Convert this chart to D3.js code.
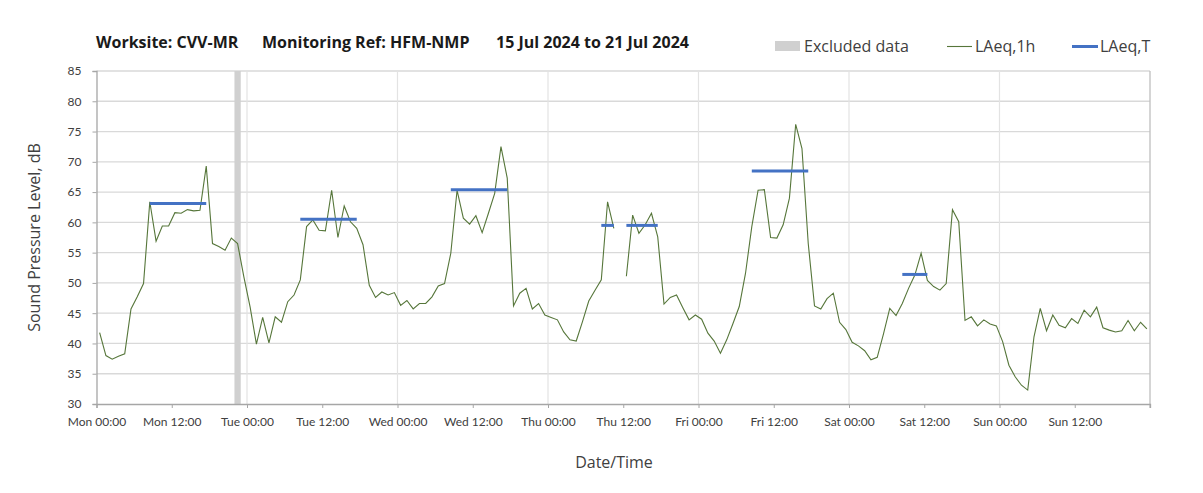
<!DOCTYPE html>
<html>
<head>
<meta charset="utf-8">
<script src="https://cdn.jsdelivr.net/npm/d3@7"></script>
<style>
  body { margin: 0; background: #fff; }
  text { font-family: "Open Sans", "Noto Sans", sans-serif; }
</style>
</head>
<body>
<svg id="chart" width="1203" height="493"></svg>
<script>
var svg = d3.select("#chart")
var plotLeft = 96.5, plotRight = 1150, plotTop = 71, plotBottom = 404

// hourly LAeq,1h values, Mon 15 Jul 00:00 onwards (null = missing hour)
var laeq1h = [
  41.8, 38.0, 37.4, 37.9, 38.3, 45.7, 47.7, 49.9, 63.4, 56.9, 59.4, 59.4,
  61.6, 61.5, 62.1, 61.9, 62.0, 69.3, 56.5, 56.0, 55.4, 57.4, 56.5, 51.0,
  46.0, 39.9, 44.3, 40.1, 44.4, 43.5, 46.9, 48.0, 50.5, 59.3, 60.4, 58.7,
  58.6, 65.3, 57.5, 62.7, 60.1, 59.0, 56.3, 49.6, 47.6, 48.5, 48.0, 48.4,
  46.3, 47.1, 45.7, 46.6, 46.6, 47.7, 49.5, 49.9, 54.9, 65.3, 60.7, 59.7,
  61.1, 58.3, 61.5, 64.8, 72.5, 67.3, 46.2, 48.3, 49.1, 45.7, 46.6, 44.7,
  44.3, 43.9, 41.9, 40.6, 40.4, 43.6, 47.0, 48.8, 50.5, 63.4, 59.0, null,
  51.1, 61.2, 58.2, 59.6, 61.5, 57.6, 46.5, 47.6, 48.0, 45.9, 43.9, 44.7,
  44.0, 41.7, 40.4, 38.4, 40.6, 43.3, 46.1, 51.6, 59.3, 65.3, 65.4, 57.5,
  57.4, 59.6, 64.0, 76.2, 72.2, 56.5, 46.2, 45.7, 47.4, 48.3, 43.5, 42.3,
  40.2, 39.6, 38.8, 37.3, 37.7, 41.6, 45.8, 44.6, 46.6, 49.1, 51.3, 54.9,
  50.4, 49.4, 48.8, 49.9, 62.1, 60.1, 43.8, 44.4, 42.9, 43.9, 43.2, 42.9,
  40.3, 36.4, 34.5, 33.1, 32.3, 41.1, 45.8, 42.1, 44.7, 43.0, 42.6, 44.1,
  43.3, 45.5, 44.4, 46.0, 42.6, 42.2, 41.9, 42.1, 43.8, 42.1, 43.5, 42.4
]

// LAeq,T periods (hour index from start, inclusive)
var periodStart = [8, 32, 56, 80, 84, 104, 128]
var periodEnd   = [17, 41, 65, 82, 89, 113, 132]
var periodValue = [63.1, 60.5, 65.4, 59.5, 59.5, 68.5, 51.4]

// excluded data (hours from start)
var excludedStart = [22]
var excludedEnd = [23]

var tickLabels = ["Mon 00:00", "Mon 12:00", "Tue 00:00", "Tue 12:00", "Wed 00:00", "Wed 12:00",
  "Thu 00:00", "Thu 12:00", "Fri 00:00", "Fri 12:00", "Sat 00:00", "Sat 12:00", "Sun 00:00", "Sun 12:00"]
var yTicks = [30, 35, 40, 45, 50, 55, 60, 65, 70, 75, 80, 85]

var x = d3.scaleLinear().domain([0, 168]).range([plotLeft, plotRight])
var y = d3.scaleLinear().domain([30, 85]).range([plotBottom, plotTop])

// horizontal grid
svg.append("g").selectAll("line").data(yTicks.slice(1)).enter().append("line")
  .attr("x1", plotLeft).attr("x2", plotRight)
  .attr("y1", d => y(d)).attr("y2", d => y(d))
  .style("stroke", "#d9d9d9").style("stroke-width", 1.3)

// vertical grid at midnights
svg.append("g").selectAll("line").data(d3.range(24, 168, 24)).enter().append("line")
  .attr("x1", d => x(d)).attr("x2", d => x(d))
  .attr("y1", plotTop).attr("y2", plotBottom)
  .style("stroke", "#e3e3e3").style("stroke-width", 1.2)

// excluded data band
svg.append("g").selectAll("rect").data(excludedStart).enter().append("rect")
  .attr("x", (d, i) => x(d))
  .attr("width", (d, i) => x(excludedEnd[i]) - x(d))
  .attr("y", plotTop).attr("height", plotBottom - plotTop)
  .style("fill", "#d0d0d0")

// right edge line
svg.append("line").attr("x1", plotRight).attr("x2", plotRight).attr("y1", plotTop).attr("y2", plotBottom + 4)
  .style("stroke", "#bfbfbf").style("stroke-width", 1.3)

// axes
var xAxis = d3.axisBottom(x).tickValues(d3.range(0, 169, 12)).tickSize(4)
  .tickFormat((d, i) => tickLabels[i] || "")
var gx = svg.append("g").attr("transform", "translate(0," + plotBottom + ")").call(xAxis)
gx.select(".domain").style("stroke", "#a6a6a6").style("stroke-width", 1.3)
gx.selectAll(".tick line").style("stroke", "#a6a6a6")
gx.selectAll(".tick text").attr("dy", "1.25em")
  .style("font-family", "Lato, 'Open Sans', sans-serif").style("font-size", "12px").style("fill", "#404040")

var yAxis = d3.axisLeft(y).tickValues(yTicks).tickSize(4).tickPadding(11)
var gy = svg.append("g").attr("transform", "translate(" + plotLeft + ",0)").call(yAxis)
gy.select(".domain").style("stroke", "#a6a6a6").style("stroke-width", 1.3)
gy.selectAll(".tick line").style("stroke", "#a6a6a6")
gy.selectAll(".tick text")
  .style("font-family", "Lato, 'Open Sans', sans-serif").style("font-size", "12px").style("fill", "#404040")

// LAeq,1h line
var line = d3.line().defined(d => d != null)
  .x((d, i) => x(i + 0.5)).y(d => y(d))
svg.append("path").datum(laeq1h).attr("d", line)
  .style("fill", "none").style("stroke", "#56763a").style("stroke-width", 1.1)

// LAeq,T lines
svg.append("g").selectAll("line").data(periodValue).enter().append("line")
  .attr("x1", (d, i) => x(periodStart[i] + 0.5))
  .attr("x2", (d, i) => x(periodEnd[i] + 0.5))
  .attr("y1", d => y(d)).attr("y2", d => y(d))
  .style("stroke", "#4472c4").style("stroke-width", 3)

// titles
var title = svg.append("g").style("font-family", "Lato, 'Open Sans', sans-serif")
  .style("font-weight", "bold").style("font-size", "16px").style("fill", "#1a1a1a")
title.append("text").attr("x", 96).attr("y", 48).text("Worksite: CVV-MR")
title.append("text").attr("x", 262).attr("y", 48).text("Monitoring Ref: HFM-NMP")
title.append("text").attr("x", 496).attr("y", 48).text("15 Jul 2024 to 21 Jul 2024")

svg.append("text").attr("transform", "translate(40," + ((plotTop + plotBottom) / 2) + ") rotate(-90)")
  .attr("text-anchor", "middle").style("font-size", "16px").style("fill", "#404040")
  .text("Sound Pressure Level, dB")
svg.append("text").attr("x", 614).attr("y", 468)
  .attr("text-anchor", "middle").style("font-size", "16px").style("fill", "#404040")
  .text("Date/Time")

// legend
var legend = svg.append("g").style("font-size", "16px").style("fill", "#404040")
legend.append("rect").attr("x", 775).attr("y", 41).attr("width", 25).attr("height", 10).style("fill", "#d0d0d0")
legend.append("text").attr("x", 804).attr("y", 52).text("Excluded data")
legend.append("line").attr("x1", 947).attr("x2", 972).attr("y1", 46.5).attr("y2", 46.5)
  .style("stroke", "#56763a").style("stroke-width", 1.1)
legend.append("text").attr("x", 975).attr("y", 52).text("LAeq,1h")
legend.append("line").attr("x1", 1072).attr("x2", 1098).attr("y1", 46.5).attr("y2", 46.5)
  .style("stroke", "#4472c4").style("stroke-width", 3)
legend.append("text").attr("x", 1100).attr("y", 52).text("LAeq,T")
</script>
</body>
</html>
